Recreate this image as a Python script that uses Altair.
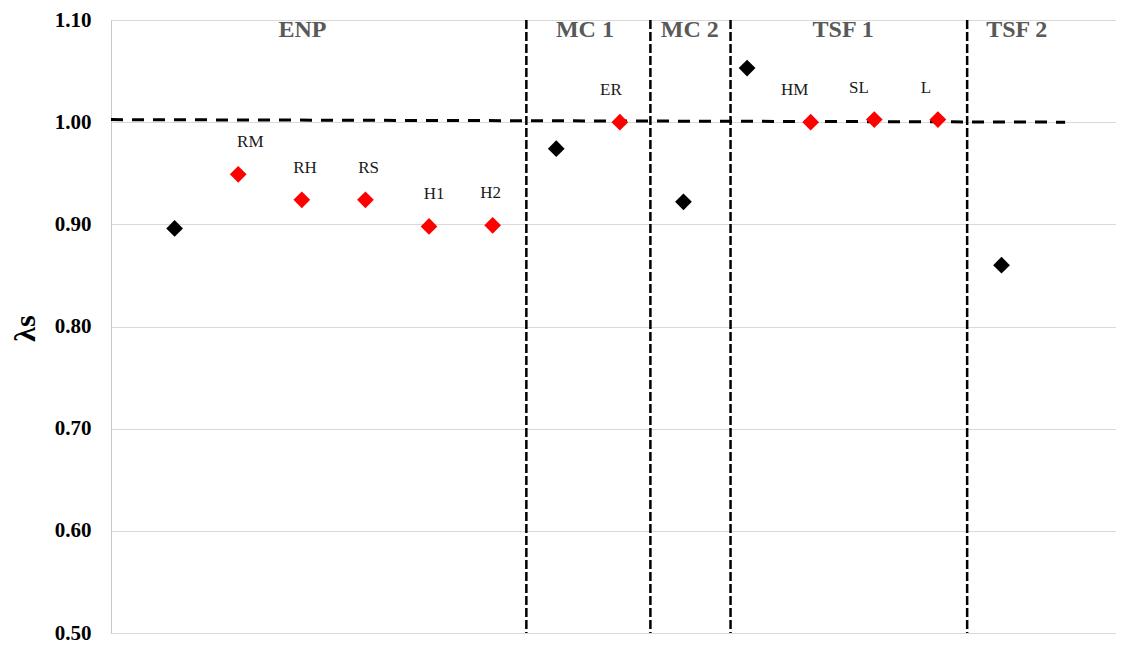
import altair as alt
import pandas as pd

# ---- data ----
positions = list(range(1, 15))
lambda_s = [0.896, 0.949, 0.924, 0.924, 0.898, 0.899, 0.974, 1.000,
            0.922, 1.053, 1.000, 1.0025, 1.0025, 0.860]
kinds = ["overall", "scenario", "scenario", "scenario", "scenario", "scenario",
         "overall", "scenario", "overall", "overall", "scenario", "scenario",
         "scenario", "overall"]
point_labels = ["", "RM", "RH", "RS", "H1", "H2", "", "ER", "", "", "HM", "SL", "L", ""]
label_nudge = [0, 0.19, 0.05, 0.05, 0.08, -0.03, 0, -0.14, 0, 0, -0.25, -0.24, -0.19, 0]

groups = ["ENP", "MC 1", "MC 2", "TSF 1", "TSF 2"]
group_pos = [3.01, 7.45, 9.10, 11.51, 14.24]
group_y = 1.090

dividers = [6.53, 8.48, 9.74, 13.46]

ref_x = [0, 15]
ref_y = [1.0025, 1.0]

y_ticks = [0.5, 0.6, 0.7, 0.8, 0.9, 1.0, 1.1]

FONT = "Liberation Serif"

pts = pd.DataFrame({"x": positions, "y": lambda_s, "kind": kinds,
                    "label": point_labels, "nudge": label_nudge})
lbl = pts[pts["label"] != ""].copy()
lbl["x"] = lbl["x"] + lbl["nudge"]
grp = pd.DataFrame({"x": group_pos, "y": [group_y] * len(groups), "label": groups})
div = pd.DataFrame({"x": dividers})
ref = pd.DataFrame({"x": ref_x, "y": ref_y})

xscale = alt.Scale(domain=[0, 15.8], nice=False, zero=False)
yscale = alt.Scale(domain=[0.5, 1.1], nice=False, zero=False)

xaxis = alt.Axis(labels=False, ticks=False, grid=False, domainColor="#d9d9d9",
                 title=None)
yaxis = alt.Axis(values=y_ticks, format=".2f", labelFont=FONT, labelFontSize=21,
                 labelFontWeight="bold", labelColor="black", labelPadding=20,
                 ticks=False, tickSize=0, domainColor="#c8c8c8",
                 gridColor="#d9d9d9", grid=True,
                 title="λs", titleFont=FONT, titleFontSize=30,
                 titleFontWeight="bold", titleColor="black",
                 titleX=-86, titleY=308, titleAngle=270,
                 titleAlign="center", titleBaseline="middle")


def X(field="x"):
    return alt.X(f"{field}:Q", scale=xscale, axis=xaxis)


def Y(field="y"):
    return alt.Y(f"{field}:Q", scale=yscale, axis=yaxis)


rules = alt.Chart(div).mark_rule(color="black", strokeWidth=2.5,
                                 strokeDash=[9, 3]).encode(x=X())

refline = alt.Chart(ref).mark_line(color="black", strokeWidth=3,
                                   strokeDash=[12, 9]).encode(x=X(), y=Y())

points = alt.Chart(pts).mark_point(shape="diamond", filled=True, size=280,
                                   opacity=1).encode(
    x=X(), y=Y(),
    color=alt.Color("kind:N", scale=alt.Scale(domain=["overall", "scenario"],
                                              range=["#000000", "#ff0000"]),
                    legend=None))

labels = alt.Chart(lbl).mark_text(font=FONT, fontSize=17, dy=-32,
                                  color="#1a1a1a").encode(
    x=X(), y=Y(), text="label:N")

group_text = alt.Chart(grp).mark_text(font=FONT, fontSize=24, fontWeight="bold",
                                      color="#595959").encode(
    x=X(), y=Y(), text="label:N")

chart = alt.layer(refline, rules, points, labels, group_text).properties(
    width=1005, height=613,
    autosize=alt.AutoSizeParams(type="none"),
    padding={"left": 103, "top": 12, "right": 0, "bottom": 12},
).configure_view(stroke=None).configure(background="white")

chart.save("out.html", embed_options={"renderer": "svg", "actions": False})
